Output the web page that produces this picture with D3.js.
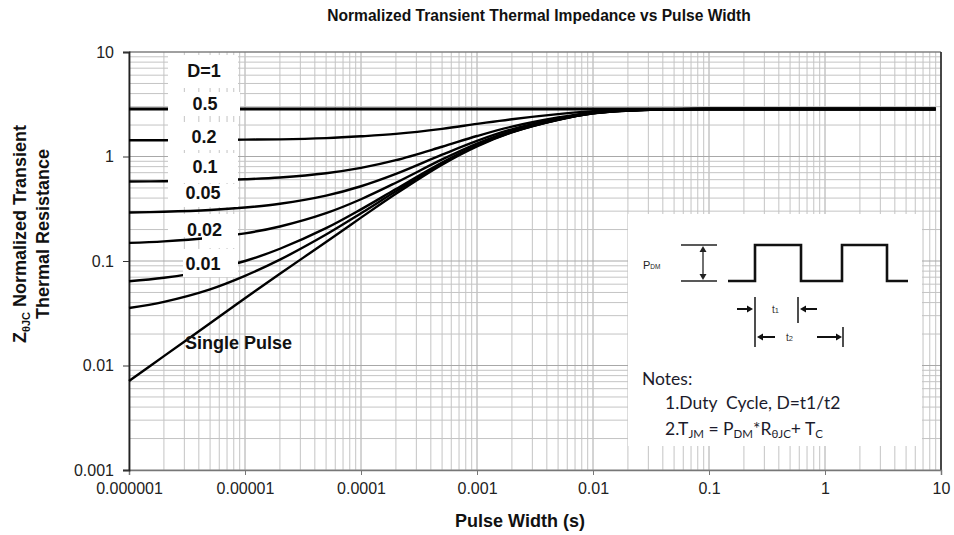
<!DOCTYPE html>
<html><head><meta charset="utf-8">
<script src="https://cdn.jsdelivr.net/npm/d3@7"></script>
<style>body{margin:0;background:#fff}svg{display:block}</style>
</head><body>
<svg id="c" width="954" height="535"></svg>
<script>
// ---- data ----
const pulseWidths = [1e-6,2e-6,5e-6,1e-5,2e-5,5e-5,1e-4,2e-4,5e-4,1e-3,2e-3,5e-3,1e-2,2e-2,5e-2,1e-1,1,9];
const seriesNames = ["D=1","0.5","0.2","0.1","0.05","0.02","0.01","Single Pulse"];
const zD1    = [2.85,2.85,2.85,2.85,2.85,2.85,2.85,2.85,2.85,2.85,2.85,2.85,2.85,2.85,2.85,2.85,2.85,2.85];
const zD05   = [1.43,1.43,1.44,1.45,1.46,1.50,1.56,1.645,1.84,2.05,2.275,2.545,2.72,2.79,2.84,2.85,2.85,2.85];
const zD02   = [0.576,0.580,0.590,0.605,0.630,0.692,0.778,0.922,1.24,1.57,1.93,2.36,2.64,2.77,2.83,2.85,2.85,2.85];
const zD01   = [0.291,0.296,0.308,0.325,0.353,0.422,0.519,0.681,1.04,1.41,1.82,2.30,2.62,2.76,2.83,2.85,2.85,2.85];
const zD005  = [0.149,0.154,0.167,0.184,0.214,0.287,0.390,0.561,0.937,1.33,1.76,2.27,2.60,2.755,2.83,2.85,2.85,2.85];
const zD002  = [0.064,0.0691,0.0819,0.100,0.131,0.206,0.312,0.488,0.876,1.28,1.72,2.25,2.595,2.75,2.83,2.85,2.85,2.85];
const zD001  = [0.0355,0.0407,0.0536,0.0721,0.103,0.179,0.286,0.464,0.856,1.27,1.71,2.245,2.59,2.75,2.83,2.85,2.85,2.85];
const zSingle= [0.0071,0.0123,0.0254,0.044,0.0755,0.152,0.260,0.440,0.836,1.25,1.70,2.24,2.59,2.75,2.83,2.85,2.85,2.85];
const xTickValues = [1e-6,1e-5,1e-4,1e-3,1e-2,1e-1,1,10];
const xTickLabels = ["0.000001","0.00001","0.0001","0.001","0.01","0.1","1","10"];
const yTickValues = [0.001,0.01,0.1,1,10];
const yTickLabels = ["0.001","0.01","0.1","1","10"];

// ---- layout ----
const L = 129, R = 941, T = 52, B = 470;
const svg = d3.select("#c");
const x = d3.scaleLog().domain([1e-6, 10]).range([L, R]);
const y = d3.scaleLog().domain([0.001, 10]).range([B, T]);
const ARIAL = "Liberation Sans, Arial, sans-serif";

// grid
const minorX = [], minorY = [];
for (let e = -6; e <= 0; e++) for (let m = 1; m <= 9; m++) minorX.push(m * Math.pow(10, e));
for (let e = -3; e <= 0; e++) for (let m = 1; m <= 9; m++) minorY.push(m * Math.pow(10, e));
const isMajor = d => Math.abs(Math.log10(d) - Math.round(Math.log10(d))) < 1e-9;
const grid = svg.append("g");
grid.selectAll("line.vx").data(minorX).join("line")
  .attr("x1", d => x(d)).attr("x2", d => x(d)).attr("y1", T).attr("y2", B)
  .attr("stroke", d => isMajor(d) ? "#a8a8a8" : "#c4c4c4").attr("stroke-width", 1);
grid.selectAll("line.hy").data(minorY).join("line")
  .attr("y1", d => y(d)).attr("y2", d => y(d)).attr("x1", L).attr("x2", R)
  .attr("stroke", d => isMajor(d) ? "#a8a8a8" : "#c4c4c4").attr("stroke-width", 1);

// frame
svg.append("line").attr("x1", L).attr("x2", R).attr("y1", T).attr("y2", T).attr("stroke", "#808080").attr("stroke-width", 1.5);
svg.append("line").attr("x1", R).attr("x2", R).attr("y1", T).attr("y2", B).attr("stroke", "#333").attr("stroke-width", 1.8);

// axes
const xAxis = svg.append("g").attr("transform", `translate(0,${B})`)
  .call(d3.axisBottom(x).tickValues(xTickValues).tickFormat((d, i) => xTickLabels[i]).tickSize(5).tickPadding(8));
xAxis.select(".domain").attr("stroke", "#777").attr("stroke-width", 1.5);
xAxis.selectAll(".tick line").attr("stroke", "#777");
xAxis.selectAll("text").attr("font-family", ARIAL).attr("font-size", 16).attr("fill", "#222");

const yAxis = svg.append("g").attr("transform", `translate(${L},0)`)
  .call(d3.axisLeft(y).tickValues(yTickValues).tickFormat((d, i) => yTickLabels[i]).tickSize(6).tickPadding(9));
yAxis.select(".domain").attr("stroke", "#222").attr("stroke-width", 1.8);
yAxis.selectAll(".tick line").attr("stroke", "#333");
yAxis.selectAll("text").attr("font-family", ARIAL).attr("font-size", 16).attr("fill", "#222");

// curves
const allSeries = [zD1, zD05, zD02, zD01, zD005, zD002, zD001, zSingle];
const line = d3.line().x((d, i) => x(pulseWidths[i])).y(d => y(d)).curve(d3.curveCatmullRom.alpha(0.5));
svg.append("g").selectAll("path").data(allSeries).join("path")
  .attr("d", d => line(d)).attr("fill", "none").attr("stroke", "#000")
  .attr("stroke-width", (d, i) => i === 0 ? 3 : 2.4);

// label masks and labels
const boxes = [
  [168, 55, 70, 33], [168, 92, 72, 24], [168, 122, 70, 28], [168, 153, 70, 30],
  [168, 184, 70, 23], [168, 214, 70, 23], [202, 236, 36, 12], [183, 249, 55, 28]
];
svg.append("g").selectAll("rect").data(boxes).join("rect")
  .attr("x", d => d[0]).attr("y", d => d[1]).attr("width", d => d[2]).attr("height", d => d[3]).attr("fill", "#fff");
const labelPos = [[204, 77], [205, 110], [204, 143], [205, 173], [203, 199], [204.5, 236], [203, 270]];
svg.append("g").selectAll("text").data(seriesNames.slice(0, 7)).join("text")
  .attr("x", (d, i) => labelPos[i][0]).attr("y", (d, i) => labelPos[i][1])
  .attr("text-anchor", "middle").attr("font-family", ARIAL).attr("font-weight", "bold")
  .attr("font-size", 18).attr("fill", "#111").text(d => d);
svg.append("text").attr("x", 185).attr("y", 349).attr("font-family", ARIAL).attr("font-weight", "bold")
  .attr("font-size", 18).attr("fill", "#111").text(seriesNames[7]);

// inset box
svg.append("rect").attr("x", 628).attr("y", 214).attr("width", 294).attr("height", 232).attr("fill", "#fff");
const ins = svg.append("g");
const arrowHead = (x0, y0, dir, vertical) => {
  const s = 6, w = 3.5;
  if (!vertical) return `M${x0},${y0} L${x0 - dir * s},${y0 - w} L${x0 - dir * s},${y0 + w} Z`;
  return `M${x0},${y0} L${x0 - w},${y0 - dir * s} L${x0 + w},${y0 - dir * s} Z`;
};
const ptxt = ins.append("text").attr("x", 643).attr("y", 269).attr("font-family", ARIAL).attr("font-size", 11).attr("fill", "#222");
ptxt.append("tspan").text("P"); ptxt.append("tspan").attr("font-size", 6.5).text("DM");
ins.append("line").attr("x1", 681).attr("x2", 717).attr("y1", 245).attr("y2", 245).attr("stroke", "#222").attr("stroke-width", 1.5);
ins.append("line").attr("x1", 681).attr("x2", 717).attr("y1", 281).attr("y2", 281).attr("stroke", "#222").attr("stroke-width", 1.5);
ins.append("line").attr("x1", 703).attr("x2", 703).attr("y1", 248).attr("y2", 278).attr("stroke", "#222").attr("stroke-width", 1.3);
ins.append("path").attr("d", arrowHead(703, 246, -1, true)).attr("fill", "#222");
ins.append("path").attr("d", arrowHead(703, 280, 1, true)).attr("fill", "#222");
ins.append("path").attr("d", "M728,281 H755 V245 H801 V281 H842 V245 H887 V281 H908")
  .attr("fill", "none").attr("stroke", "#111").attr("stroke-width", 2.6);
ins.append("line").attr("x1", 755).attr("x2", 755).attr("y1", 297).attr("y2", 347).attr("stroke", "#222").attr("stroke-width", 1.6);
ins.append("line").attr("x1", 798).attr("x2", 798).attr("y1", 297).attr("y2", 323).attr("stroke", "#222").attr("stroke-width", 1.6);
ins.append("line").attr("x1", 843).attr("x2", 843).attr("y1", 327).attr("y2", 347).attr("stroke", "#222").attr("stroke-width", 1.6);
ins.append("line").attr("x1", 737).attr("x2", 748).attr("y1", 309).attr("y2", 309).attr("stroke", "#111").attr("stroke-width", 2);
ins.append("path").attr("d", arrowHead(753, 309, 1, false)).attr("fill", "#111");
ins.append("line").attr("x1", 805).attr("x2", 817).attr("y1", 309).attr("y2", 309).attr("stroke", "#111").attr("stroke-width", 2);
ins.append("path").attr("d", arrowHead(800, 309, -1, false)).attr("fill", "#111");
ins.append("line").attr("x1", 762).attr("x2", 775).attr("y1", 337).attr("y2", 337).attr("stroke", "#111").attr("stroke-width", 2);
ins.append("path").attr("d", arrowHead(757, 337, -1, false)).attr("fill", "#111");
ins.append("line").attr("x1", 817).attr("x2", 836).attr("y1", 337).attr("y2", 337).attr("stroke", "#111").attr("stroke-width", 2);
ins.append("path").attr("d", arrowHead(842, 337, 1, false)).attr("fill", "#111");
const t1 = ins.append("text").attr("x", 772).attr("y", 313).attr("font-family", ARIAL).attr("font-size", 10).attr("fill", "#333");
t1.append("tspan").text("t"); t1.append("tspan").attr("font-size", 7.5).text("1");
const t2 = ins.append("text").attr("x", 786).attr("y", 341).attr("font-family", ARIAL).attr("font-size", 10).attr("fill", "#333");
t2.append("tspan").text("t"); t2.append("tspan").attr("font-size", 7.5).text("2");

const NOTE = "Lato, 'Open Sans', sans-serif";
const NS = 17.5;
ins.append("text").attr("x", 642).attr("y", 385).attr("font-family", NOTE).attr("font-size", NS).attr("fill", "#1c1c2c").text("Notes:");
ins.append("text").attr("x", 665).attr("y", 409).attr("font-family", NOTE).attr("font-size", NS).attr("fill", "#1c1c2c")
  .attr("xml:space", "preserve").text("1.Duty  Cycle, D=t1/t2");
const n2 = ins.append("text").attr("x", 665).attr("y", 435).attr("font-family", NOTE).attr("font-size", NS).attr("fill", "#1c1c2c");
const parts = [["2.T", 0], ["JM", 1], [" = P", 0], ["DM", 1], ["*R", 0], ["θJC", 1], ["+ T", 0], ["C", 1]];
parts.forEach((p, i) => {
  const dy = p[1] ? 3 : (i === 0 ? 0 : -3);
  n2.append("tspan").attr("font-size", p[1] ? 11.5 : NS).attr("dy", dy).text(p[0]);
});

// titles
svg.append("text").attr("x", 539).attr("y", 21).attr("text-anchor", "middle").attr("font-family", ARIAL)
  .attr("font-weight", "bold").attr("font-size", 15.6).attr("fill", "#111").text("Normalized Transient Thermal Impedance vs Pulse Width");
svg.append("text").attr("x", 520).attr("y", 527).attr("text-anchor", "middle").attr("font-family", ARIAL)
  .attr("font-weight", "bold").attr("font-size", 18).attr("fill", "#111").text("Pulse Width (s)");
const yt1 = svg.append("text").attr("transform", "translate(26,234) rotate(-90)").attr("text-anchor", "middle")
  .attr("font-family", ARIAL).attr("font-weight", "bold").attr("font-size", 18).attr("fill", "#111");
yt1.append("tspan").text("Z");
yt1.append("tspan").attr("font-size", 11).attr("dy", 4).text("θJC");
yt1.append("tspan").attr("dy", -4).text(" Normalized Transient");
svg.append("text").attr("transform", "translate(49,234) rotate(-90)").attr("text-anchor", "middle")
  .attr("font-family", ARIAL).attr("font-weight", "bold").attr("font-size", 18).attr("fill", "#111").text("Thermal Resistance");
</script>
</body></html>
